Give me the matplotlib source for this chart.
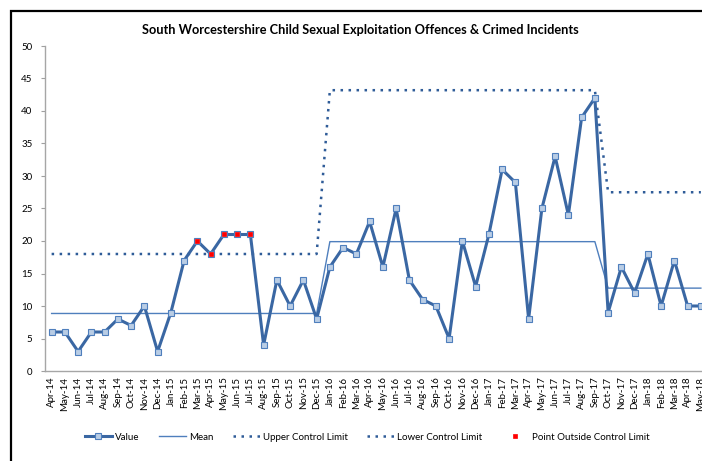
import numpy as np
import matplotlib
matplotlib.use("Agg")
import matplotlib.pyplot as plt
from matplotlib.patches import Rectangle

months = ["Apr-14", "May-14", "Jun-14", "Jul-14", "Aug-14", "Sep-14", "Oct-14", "Nov-14", "Dec-14",
          "Jan-15", "Feb-15", "Mar-15", "Apr-15", "May-15", "Jun-15", "Jul-15", "Aug-15", "Sep-15",
          "Oct-15", "Nov-15", "Dec-15", "Jan-16", "Feb-16", "Mar-16", "Apr-16", "May-16", "Jun-16",
          "Jul-16", "Aug-16", "Sep-16", "Oct-16", "Nov-16", "Dec-16", "Jan-17", "Feb-17", "Mar-17",
          "Apr-17", "May-17", "Jun-17", "Jul-17", "Aug-17", "Sep-17", "Oct-17", "Nov-17", "Dec-17",
          "Jan-18", "Feb-18", "Mar-18", "Apr-18", "May-18"]
values = [6, 6, 3, 6, 6, 8, 7, 10, 3, 9, 17, 20, 18, 21, 21, 21, 4, 14, 10, 14, 8,
          16, 19, 18, 23, 16, 25, 14, 11, 10, 5, 20, 13, 21, 31, 29, 8, 25, 33, 24, 39, 42,
          9, 16, 12, 18, 10, 17, 10, 10]
# mean / limits per phase: (first index, last index, mean, ucl, lcl)
phase_start = [0, 21, 42]
phase_end = [20, 41, 49]
phase_mean = [8.85, 19.9, 12.75]
phase_ucl = [18.0, 43.2, 27.5]
phase_lcl = [-0.3, -3.4, -2.0]
outside = [11, 12, 13, 14, 15]

mean = np.zeros(len(values))
ucl = np.zeros(len(values))
lcl = np.zeros(len(values))
for s, e, m, u, l in zip(phase_start, phase_end, phase_mean, phase_ucl, phase_lcl):
    mean[s:e + 1] = m
    ucl[s:e + 1] = u
    lcl[s:e + 1] = l

x = np.arange(len(values))
vals = np.array(values)

plt.rcParams['font.family'] = ['Lato', 'DejaVu Sans']
fig = plt.figure(figsize=(7.02, 4.61), dpi=100)
ax = fig.add_axes([45 / 702, 90 / 461, 662.5 / 702, 325 / 461])

line_col = "#3A67A3"
ax.plot(x, mean, color="#4F7FBD", lw=1.0, label="Mean", zorder=2)
ax.plot(x, ucl, color="#2F5C98", lw=1.8, ls=(0, (1, 2.2)), label="Upper Control Limit", zorder=2)
ax.plot(x, lcl, color="#2F5C98", lw=1.8, ls=(0, (1, 2.2)), label="Lower Control Limit", zorder=2)
ax.plot(x, vals, color=line_col, lw=2.2, marker="s", ms=4.2, mfc="#B9CDE5",
        mec="#4F7FBD", mew=0.8, label="Value", zorder=3)
ax.plot(x[outside], vals[outside], ls="none", marker="s", ms=2.8, mfc="#FF0000",
        mec="#FF0000", mew=0.5, label="Point Outside Control Limit", zorder=4)

ax.set_xlim(-0.5, len(values) - 0.5)
ax.set_ylim(0, 50)
ax.set_yticks(range(0, 51, 5))
ax.set_xticks(x)
ax.set_xticklabels(months, rotation=90, fontsize=7)
ax.tick_params(axis="y", labelsize=7, length=3, color="#A0A0A0", pad=6)
ax.tick_params(axis="x", length=0, pad=4)
for side in ["top", "right"]:
    ax.spines[side].set_visible(False)
for side in ["left", "bottom"]:
    ax.spines[side].set_color("#A6A6A6")
    ax.spines[side].set_linewidth(1.0)

fig.text(360 / 702, 1 - 30 / 461, "South Worcestershire Child Sexual Exploitation Offences & Crimed Incidents",
         ha="center", va="center", fontsize=9.2, fontweight="bold")

h, l = ax.get_legend_handles_labels()
order = [3, 0, 1, 2, 4]
fig.legend([h[i] for i in order], [l[i] for i in order], loc="center",
           bbox_to_anchor=(367 / 702, 1 - 437 / 461), ncol=5, frameon=False,
           fontsize=7, handlelength=2.8, columnspacing=2.0, handletextpad=0.3)

fig.add_artist(Rectangle((11 / 702, -0.2), 1.2, 1.2 - 11 / 461, transform=fig.transFigure,
                         fill=False, ec="black", lw=1.6))

fig.savefig("out.png", dpi=100)
